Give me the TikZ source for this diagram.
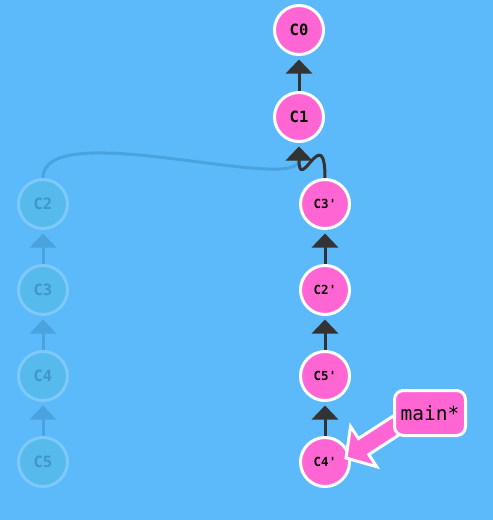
\documentclass[tikz,border=0pt]{standalone}
\usepackage{fontspec}
\newfontfamily\gitmono{DejaVu Sans Mono}
\usetikzlibrary{arrows.meta}
\definecolor{bgblue}{RGB}{92,185,250}
\definecolor{cpink}{RGB}{255,102,212}
\definecolor{darkline}{RGB}{51,51,51}
\definecolor{fadefill}{RGB}{86,186,236}
\definecolor{fadeedge}{RGB}{124,201,250}
\definecolor{fadetext}{RGB}{62,150,205}
\definecolor{fadeline}{RGB}{74,163,222}
\tikzset{
  commit/.style={circle, minimum size=49pt, inner sep=0pt, outer sep=1.5pt,
    line width=3pt, draw=white, fill=cpink, text=black,
    font=\gitmono\bfseries\fontsize{15.5}{15.5}\selectfont},
  commitsm/.style={commit, font=\gitmono\bfseries\fontsize{12.5}{12.5}\selectfont},
  faded/.style={commit, draw=fadeedge, fill=fadefill, text=fadetext},
  parentlink/.style={line width=3pt, draw=darkline,
    -{Triangle[width=26pt,length=14pt]}, shorten >=3.5pt},
  fadedlink/.style={parentlink, draw=fadeline},
  ptrarrow/.style={draw=white, fill=cpink, line width=3pt, line join=miter},
  branchbox/.style={rectangle, rounded corners=9pt, draw=white, fill=cpink,
    line width=3pt, minimum width=71pt, minimum height=45pt, inner sep=0pt,
    text=black, font=\gitmono\fontsize{19.5}{19.5}\selectfont}
}
\begin{document}
\begin{tikzpicture}[x=1pt, y=-1pt]
  \fill[bgblue] (0,0) rectangle (493,520);
  \useasboundingbox (0,0) rectangle (493,520);

  % faded (old) commits
  \node[faded] (c2) at (43,204) {C2};
  \node[faded] (c3) at (43,290) {C3};
  \node[faded] (c4) at (43,376) {C4};
  \node[faded] (c5) at (43,462) {C5};

  % main commits
  \node[commit] (c0) at (299,30) {C0};
  \node[commit] (c1) at (299,117) {C1};
  \node[commitsm] (c3p) at (325,204) {C3'};
  \node[commitsm] (c2p) at (325,290) {C2'};
  \node[commitsm] (c5p) at (325,376) {C5'};
  \node[commitsm] (c4p) at (325,462) {C4'};

  % faded links
  \draw[fadedlink] (c3.north) -- (c2.south);
  \draw[fadedlink] (c4.north) -- (c3.south);
  \draw[fadedlink] (c5.north) -- (c4.south);
  \draw[fadedlink] (c2.north) .. controls +(0,-63) and +(0,52) .. (c1.south);

  % main links
  \draw[parentlink] (c1.north) -- (c0.south);
  \draw[parentlink] (c3p.north) .. controls +(0,-58) and +(0,52) .. (c1.south);
  \draw[parentlink] (c2p.north) -- (c3p.south);
  \draw[parentlink] (c5p.north) -- (c2p.south);
  \draw[parentlink] (c4p.north) -- (c5p.south);

  % branch pointer
  \coordinate (mtip) at ([shift={(21,-4)}]c4p.center);
  \begin{scope}[shift={(mtip)}, rotate=33]
    \draw[ptrarrow] (0,0) -- (21,-24) -- (21,-9.5) -- (75,-9.5) -- (75,9.5)
      -- (21,9.5) -- (21,24) -- cycle;
  \end{scope}
  \node[branchbox] (mainlbl) at (430,413) {main*};
\end{tikzpicture}
\end{document}
